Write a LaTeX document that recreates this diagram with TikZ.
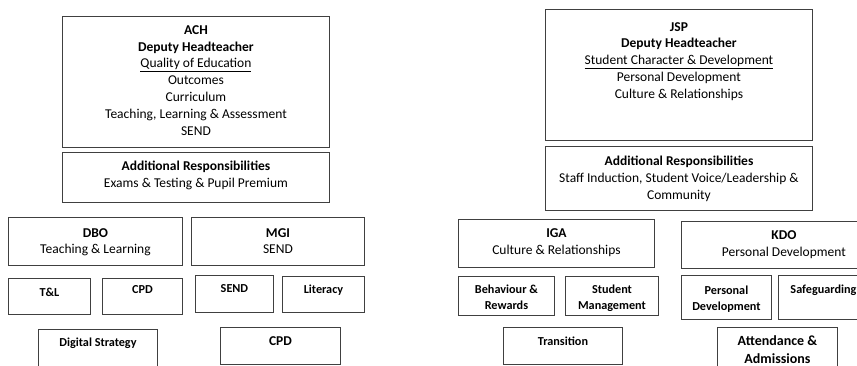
\documentclass[tikz,border=0pt]{standalone}
\usepackage{fontspec}
\setmainfont{Carlito}
\usetikzlibrary{positioning}

\begin{document}
\begin{tikzpicture}[x=1pt,y=-1pt,
  box/.style={draw=black!75,line width=0.9pt,anchor=north west,inner sep=0pt},
  txt/.style={inner sep=0pt,align=center,anchor=north,font=\fontsize{13.5}{16.8}\selectfont,execute at begin node=\strut},
  lbl/.style={txt,font=\fontsize{12.2}{15.5}\selectfont\bfseries},
  big/.style={txt,font=\fontsize{13.5}{16.8}\selectfont\bfseries}]

\clip (0,0) rectangle (857,365);

% deputy heads
\node[box,minimum width=267,minimum height=131] (ach) at (62,16) {};
\node[box,minimum width=267,minimum height=50]  (achadd) at (62,152) {};
\node[box,minimum width=267,minimum height=131] (jsp) at (545,9) {};
\node[box,minimum width=267,minimum height=64]  (jspadd) at (545,146) {};

\node[txt,below=9.2pt of ach.north] (achtxt) {\textbf{ACH}\\\textbf{Deputy Headteacher}\\\underline{Quality of Education}\\Outcomes\\Curriculum\\Teaching, Learning \& Assessment\\SEND};
\node[txt,below=9pt of achadd.north] (achaddtxt) {\textbf{Additional Responsibilities}\\Exams \& Testing \& Pupil Premium};
\node[txt,below=13pt of jsp.north] (jsptxt) {\textbf{JSP}\\\textbf{Deputy Headteacher}\\\underline{Student Character \& Development}\\Personal Development\\Culture \& Relationships};
\node[txt,below=10pt of jspadd.north] (jspaddtxt) {\textbf{Additional Responsibilities}\\Staff Induction, Student Voice/Leadership \&\\Community};

% leads
\node[box,minimum width=174,minimum height=48] (dbo) at (8,217) {};
\node[box,minimum width=173,minimum height=48] (mgi) at (191,217) {};
\node[box,minimum width=196,minimum height=48] (iga) at (458,219) {};
\node[box,minimum width=205,minimum height=47] (kdo) at (681,221) {};

\node[txt,below=11pt of dbo.north] (dbotxt) {\textbf{DBO}\\Teaching \& Learning};
\node[txt,below=11pt of mgi.north] (mgitxt) {\textbf{MGI}\\SEND};
\node[txt,below=9.2pt of iga.north] (igatxt) {\textbf{IGA}\\Culture \& Relationships};
\node[txt,below=9.5pt of kdo.north] (kdotxt) {\textbf{KDO}\\Personal Development};

% areas
\node[box,minimum width=82,minimum height=36]  (tl) at (8,278) {};
\node[box,minimum width=80,minimum height=36]  (cpda) at (102,278) {};
\node[box,minimum width=78,minimum height=37]  (send) at (195,275) {};
\node[box,minimum width=82,minimum height=36]  (lit) at (282,276) {};
\node[box,minimum width=119,minimum height=45] (digi) at (38,329) {};
\node[box,minimum width=120,minimum height=37] (cpdb) at (220,327) {};

\node[lbl,below=7.2pt of tl.north] (tltxt) {T\&L};
\node[lbl,below=4.2pt of cpda.north] (cpdatxt) {CPD};
\node[lbl,below=6pt of send.north] (sendtxt) {SEND};
\node[lbl,below=6pt of lit.north] (littxt) {Literacy};
\node[lbl,below=6.2pt of digi.north] (digitxt) {Digital Strategy};
\node[big,below=6.2pt of cpdb.north] (cpdbtxt) {CPD};

\node[box,minimum width=96,minimum height=39]  (beh) at (458,276) {};
\node[box,minimum width=93,minimum height=39]  (stu) at (565,276) {};
\node[box,minimum width=90,minimum height=44]  (pd) at (681,275) {};
\node[box,minimum width=90,minimum height=44]  (safe) at (778,275) {};
\node[box,minimum width=119,minimum height=37] (trans) at (503,327) {};
\node[box,minimum width=120,minimum height=45] (att) at (717,327) {};

\node[lbl,below=9.2pt of beh.north] (behtxt) {Behaviour \&\\Rewards};
\node[lbl,below=9.2pt of stu.north] (stutxt) {Student\\Management};
\node[lbl,below=11pt of pd.north] (pdtxt) {Personal\\Development};
\node[lbl,below=7.2pt of safe.north] (safetxt) {Safeguarding};
\node[lbl,below=7pt of trans.north] (transtxt) {Transition};
\node[txt,font=\fontsize{14}{18}\selectfont\bfseries,below=8pt of att.north] (atttxt) {Attendance \&\\Admissions};

\end{tikzpicture}
\end{document}
